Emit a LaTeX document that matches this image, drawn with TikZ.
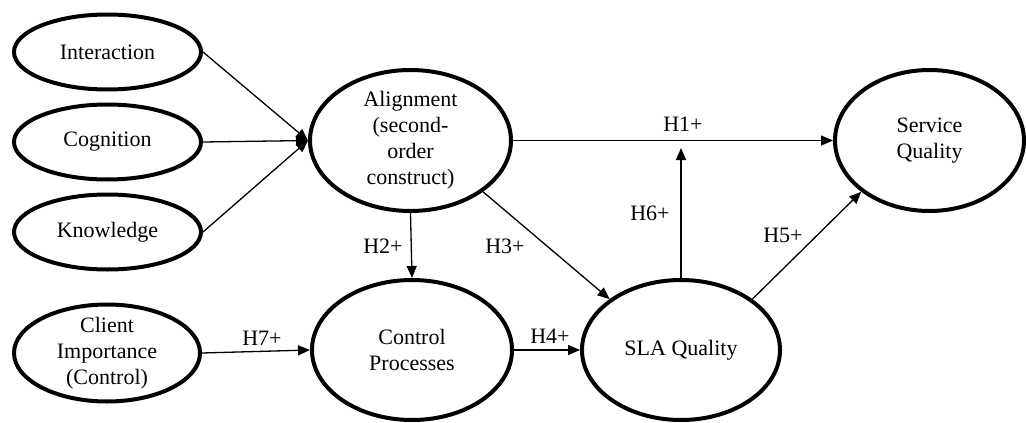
\documentclass[tikz,border=0pt]{standalone}
\usepackage{fontspec}
\setmainfont{Liberation Serif}
\usetikzlibrary{shapes.geometric,arrows.meta}

\tikzset{
  latent/.style={ellipse, draw, line width=4pt, inner sep=0pt},
  lbl/.style={font=\fontsize{22}{26}\selectfont, align=center, inner sep=0pt},
  conn/.style={line width=1.3pt, -{Triangle[length=12pt,width=10pt]}},
}

\begin{document}
\begin{tikzpicture}[x=1pt, y=-1pt]
  \useasboundingbox (0,0) rectangle (1026,423);

  % constructs
  \node[latent, minimum width=187pt, minimum height=75pt,
        label={[lbl]center:Interaction}] (inter) at (107.5,52) {};
  \node[latent, minimum width=187pt, minimum height=75pt,
        label={[lbl]center:Cognition}] (cogn) at (107.5,142) {};
  \node[latent, minimum width=187pt, minimum height=75pt,
        label={[lbl]center:Knowledge}] (know) at (107.5,232) {};
  \node[latent, minimum width=186pt, minimum height=97pt,
        label={[lbl]center:Client\\Importance\\(Control)}] (client) at (107,353) {};
  \node[latent, minimum width=201pt, minimum height=141pt,
        label={[lbl]center:Alignment\\(second-\\order\\construct)}] (align) at (410.5,140.5) {};
  \node[latent, minimum width=200pt, minimum height=140pt,
        label={[lbl]center:Control\\Processes}] (ctrl) at (412,350) {};
  \node[latent, minimum width=198pt, minimum height=140pt,
        label={[lbl]center:SLA Quality}] (sla) at (681,350) {};
  \node[latent, minimum width=189pt, minimum height=141pt,
        label={[lbl]center:Service\\Quality}] (svc) at (929.5,140.5) {};

  % moderating arrow ends on the H1 path
  \coordinate (h6tip) at (681,148);

  % paths
  \draw[conn] (inter.east) -- (align.west);
  \draw[conn] (cogn.east) -- (align.west);
  \draw[conn] (know.east) -- (align.west);
  \draw[conn] (align.east) -- (svc.west);
  \draw[conn] (align.south) -- (ctrl.north);
  \draw[conn] (align.south east) -- (sla.north west);
  \draw[conn] (client.east) -- (ctrl.west);
  \draw[conn] (ctrl.east) -- (sla.west);
  \draw[conn] (sla.north east) -- (svc.south west);
  \draw[conn] (sla.north) -- (h6tip);

  % hypothesis labels
  \node[lbl] (h1) at (683,124) {H1+};
  \node[lbl] (h2) at (383,246) {H2+};
  \node[lbl] (h3) at (505,246) {H3+};
  \node[lbl] (h4) at (550,336) {H4+};
  \node[lbl] (h5) at (783,235) {H5+};
  \node[lbl] (h6) at (650,213) {H6+};
  \node[lbl] (h7) at (262,338) {H7+};
\end{tikzpicture}
\end{document}
